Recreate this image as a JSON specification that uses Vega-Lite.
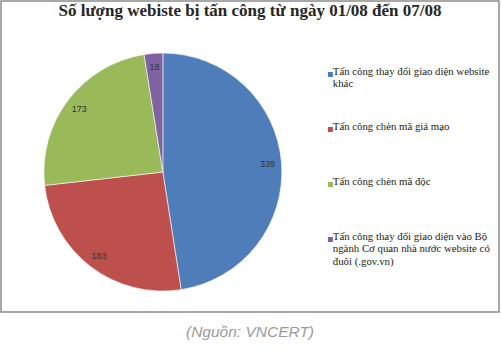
{
  "$schema": "https://vega.github.io/schema/vega-lite/v6.json",
  "autosize": {"type": "none"},
  "padding": {"left": 1, "top": 1, "right": 2, "bottom": 51},
  "background": "white",
  "width": 498,
  "height": 311,
  "view": {"stroke": "#8c8c8c", "strokeWidth": 1.5},
  "title": {
    "text": "Số lượng webiste bị tấn công từ ngày 01/08 đến 07/08",
    "anchor": "middle",
    "offset": -19,
    "font": "Liberation Serif",
    "fontWeight": "bold",
    "fontSize": 17,
    "color": "#262626"
  },
  "data": {
    "values": [
      {"idx": 1, "loai": "Tấn công thay đổi giao diện website|khác", "so": 339},
      {"idx": 2, "loai": "Tấn công chèn mã giả mạo", "so": 183},
      {"idx": 3, "loai": "Tấn công chèn mã độc", "so": 173},
      {"idx": 4, "loai": "Tấn công thay đổi giao diện vào Bộ|ngành Cơ quan nhà nước website có|đuôi (.gov.vn)", "so": 18}
    ]
  },
  "layer": [
    {
      "mark": {"type": "arc", "radius": 119, "x": {"expr": "width*0.325"}, "y": {"expr": "height*0.55"}, "stroke": "white", "strokeWidth": 0.6},
      "encoding": {
        "theta": {"field": "so", "type": "quantitative", "stack": true},
        "order": {"field": "idx", "type": "quantitative"},
        "color": {
          "field": "loai",
          "type": "nominal",
          "sort": {"field": "idx"},
          "scale": {
            "domain": [
              "Tấn công thay đổi giao diện website|khác",
              "Tấn công chèn mã giả mạo",
              "Tấn công chèn mã độc",
              "Tấn công thay đổi giao diện vào Bộ|ngành Cơ quan nhà nước website có|đuôi (.gov.vn)"
            ],
            "range": ["#4F7DBA", "#BD4F4D", "#9ABA5A", "#7F63A0"]
          },
          "legend": {
            "orient": "none",
            "legendX": 324,
            "legendY": 46,
            "title": null,
            "symbolType": "square",
            "symbolSize": 25,
            "symbolStrokeWidth": 0,
            "labelFont": "Liberation Serif",
            "labelFontSize": 10.8,
            "labelColor": "#222222",
            "labelLimit": 0,
            "labelOffset": -3,
            "clipHeight": 55,
            "rowPadding": 0,
            "labelBaseline": "alphabetic",
            "labelExpr": "split(datum.label, '|')",
            "padding": 0,
            "encode": {
              "symbols": {"update": {"y": {"value": 9}}},
              "labels": {"update": {"y": {"value": 9}, "dy": {"value": 3.5}, "lineHeight": {"value": 12.3}, "font": {"value": "Liberation Serif"}}}
            }
          }
        }
      }
    },
    {
      "mark": {"type": "text", "radius": 105, "x": {"expr": "width*0.325"}, "y": {"expr": "height*0.55"}, "font": "Liberation Sans", "fontSize": 9, "color": "#333333"},
      "encoding": {
        "theta": {"field": "so", "type": "quantitative", "stack": true},
        "order": {"field": "idx", "type": "quantitative"},
        "text": {"field": "so", "type": "quantitative"}
      }
    },
    {
      "data": {"values": [{"nguon": "(Nguồn: VNCERT)"}]},
      "mark": {"type": "text", "x": {"expr": "width/2"}, "y": {"expr": "height+20"}, "font": "Liberation Sans", "fontStyle": "italic", "fontSize": 15.5, "color": "#9a9a9a", "align": "center", "baseline": "middle"},
      "encoding": {
        "text": {"field": "nguon", "type": "nominal"}
      }
    }
  ],
  "config": {
    "view": {"stroke": "#8c8c8c", "strokeWidth": 1.5}
  }
}
